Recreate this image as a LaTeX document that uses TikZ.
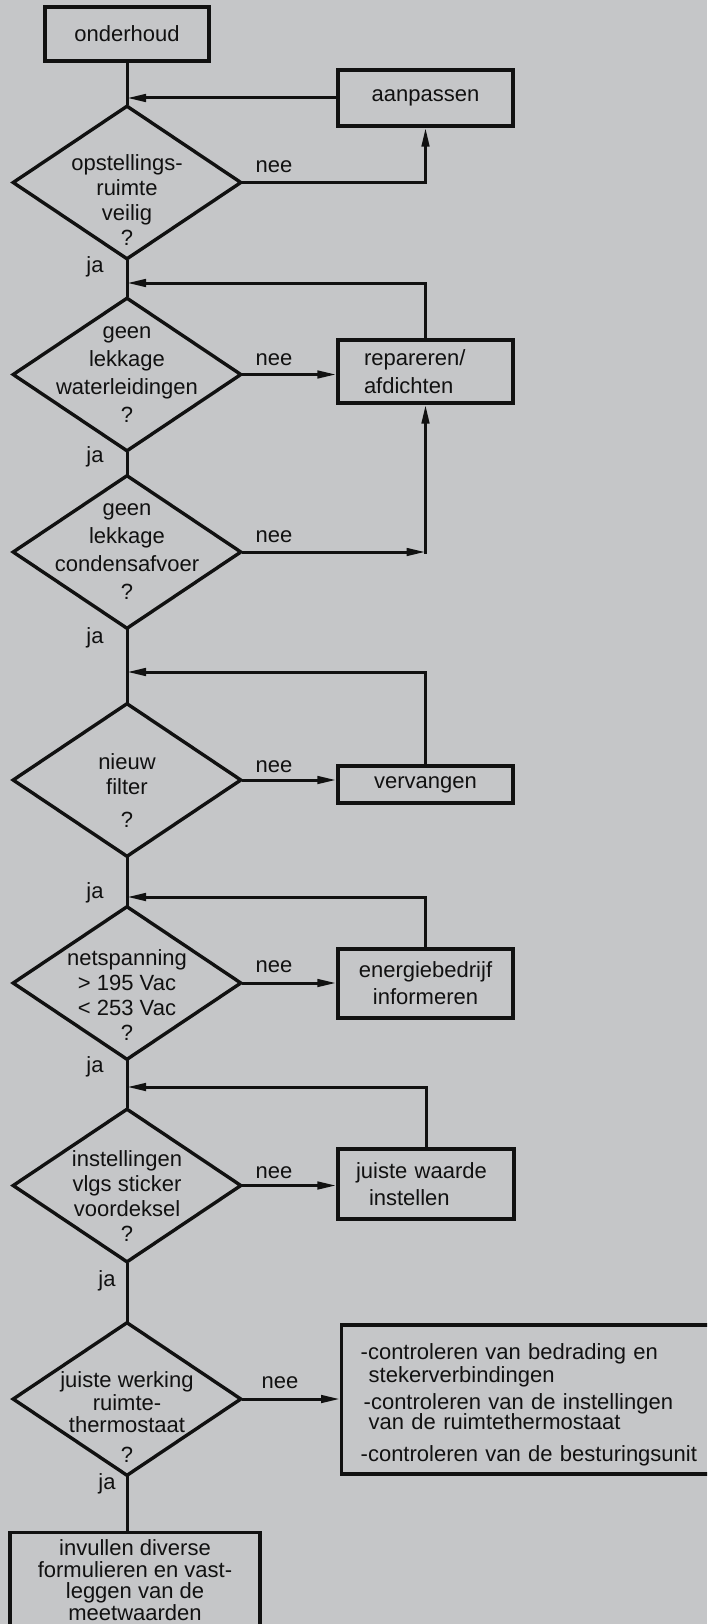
\documentclass[tikz,border=0pt]{standalone}
\usepackage{fontspec}
\setmainfont{Liberation Sans}
\usetikzlibrary{arrows.meta,positioning,shapes.geometric}
\definecolor{panel}{HTML}{C5C6C8}
\definecolor{ink}{HTML}{111111}

\begin{document}
\begin{tikzpicture}[x=1pt,y=-1pt,
  every node/.style={font=\fontsize{22}{25}\selectfont, text=ink},
  blok/.style={draw=ink, line width=3.4pt, rectangle, inner sep=0pt, minimum width=175pt},
  vraag/.style={draw=ink, line width=3.4pt, diamond, inner sep=0pt, minimum width=229pt, minimum height=154pt},
  dtxt/.style={align=center, inner sep=0pt},
  lijn/.style={draw=ink, line width=3pt, line cap=rect},
  pijl/.style={lijn, -{Triangle[length=19pt,width=7.5pt]}},
  lbl/.style={inner sep=0pt}]
  \clip (0,0) rectangle (707,1624);
  \fill[panel] (0,0) rectangle (707,1624);

  % hoofdlijn
  \node[blok, minimum width=164pt, minimum height=54pt] (start) at (127,34) {onderhoud};
  \node[blok, minimum height=56pt] (aanp) at (425.5,98) {aanpassen};
  \node[vraag, label={[dtxt,yshift=-18pt]center:{opstellings-\\ruimte\\veilig\\?}}] (q1) at (127,182.5) {};
  \node[blok, minimum height=63pt, text width=123pt, inner xsep=26pt, align=left] (rep) at (425.5,371.5) {repareren/\\[3pt]afdichten};
  \node[vraag, label={[dtxt]center:{geen\\[3pt]lekkage\\[3pt]waterleidingen\\[3pt]?}}] (q2) at (127,374.5) {};
  \node[vraag, label={[dtxt]center:{geen\\[3pt]lekkage\\[3pt]condensafvoer\\[3pt]?}}] (q3) at (127,552) {};
  \node[blok, minimum height=37pt] (verv) at (425.5,784.5) {vervangen};
  \node[vraag, label={[dtxt,yshift=-11pt]center:{nieuw\\filter\\[8pt]?}}] (q4) at (127,780) {};
  \node[blok, minimum height=69pt, align=center] (energ) at (425.5,983.5) {energiebedrijf\\[2pt]informeren};
  \node[vraag, label={[dtxt,yshift=-12pt]center:{netspanning\\> 195 Vac\\< 253 Vac\\?}}] (q5) at (127,983) {};
  \node[blok, minimum height=70pt, text width=140pt, inner xsep=18pt, align=left] (waarde) at (426,1184) {juiste waarde\\[2pt]\hspace*{13pt}instellen};
  \node[vraag, label={[dtxt,yshift=-11pt]center:{instellingen\\vlgs sticker\\voordeksel\\?}}] (q6) at (127,1185.5) {};
  \node[vraag, label={[dtxt,yshift=-18pt]center:{juiste werking\\[-2pt]ruimte-\\[-3pt]thermostaat\\[5pt]?}}] (q7) at (127,1399) {};
  \node[blok, anchor=west, minimum width=400pt, minimum height=149pt, text width=362pt, inner xsep=19pt, align=left] (contr) at (340,1399.5)
    {\rule{0pt}{27pt}-controleren van bedrading en\\[-2pt]\hspace*{8pt}stekerverbindingen\\[2pt]\hspace*{3pt}-controleren van de instellingen\\[-5pt]\hspace*{8pt}van de ruimtethermostaat\\[7pt]-controleren van de besturingsunit};
  \node[blok, anchor=north, minimum width=250pt, align=center, inner ysep=7pt, text depth=75pt, font=\fontsize{22}{21.5}\selectfont] (invul) at (135,1531)
    {invullen diverse\\formulieren en vast-\\leggen van de\\meetwaarden};

  % terugkoppelpunten op de hoofdlijn
  \coordinate (m2) at (127,283);
  \coordinate (m4) at (127,672);
  \coordinate (m5) at (127,897);
  \coordinate (m6) at (127,1087);

  \draw[lijn] (start.south) -- (q1.north);
  \draw[pijl] (aanp.west) -- (aanp.west -| q1.north);
  \draw[pijl] (q1.east) -| (aanp.south);
  \draw[lijn] (q1.south) -- (q2.north);
  \draw[pijl] (rep.north) |- (m2);
  \draw[pijl] (q2.east) -- (q2.east -| rep.west);
  \draw[lijn] (q2.south) -- (q3.north);
  \draw[pijl] (q3.east) -- (q3.east -| rep.south);
  \draw[pijl] (q3.east -| rep.south) -- (rep.south);
  \draw[lijn] (q3.south) -- (q4.north);
  \draw[pijl] (verv.north) |- (m4);
  \draw[pijl] (q4.east) -- (q4.east -| verv.west);
  \draw[lijn] (q4.south) -- (q5.north);
  \draw[pijl] (energ.north) |- (m5);
  \draw[pijl] (q5.east) -- (q5.east -| energ.west);
  \draw[lijn] (q5.south) -- (q6.north);
  \draw[pijl] (waarde.north) |- (m6);
  \draw[pijl] (q6.east) -- (q6.east -| waarde.west);
  \draw[lijn] (q6.south) -- (q7.north);
  \draw[pijl] (q7.east) -- (q7.east -| contr.west);
  \draw[lijn] (q7.south) -- (q7.south |- invul.north);

  % ja / nee
  \node[lbl] (nee1) at (274,167) {nee};
  \node[lbl] (nee2) at (274,360) {nee};
  \node[lbl] (nee3) at (274,537) {nee};
  \node[lbl] (nee4) at (274,767) {nee};
  \node[lbl] (nee5) at (274,967) {nee};
  \node[lbl] (nee6) at (274,1173) {nee};
  \node[lbl] (nee7) at (280,1383) {nee};
  \node[lbl] (ja1) at (95,267) {ja};
  \node[lbl] (ja2) at (95,457) {ja};
  \node[lbl] (ja3) at (95,638) {ja};
  \node[lbl] (ja4) at (95,893) {ja};
  \node[lbl] (ja5) at (95,1067) {ja};
  \node[lbl] (ja6) at (107,1281) {ja};
  \node[lbl] (ja7) at (107,1484) {ja};
\end{tikzpicture}
\end{document}
